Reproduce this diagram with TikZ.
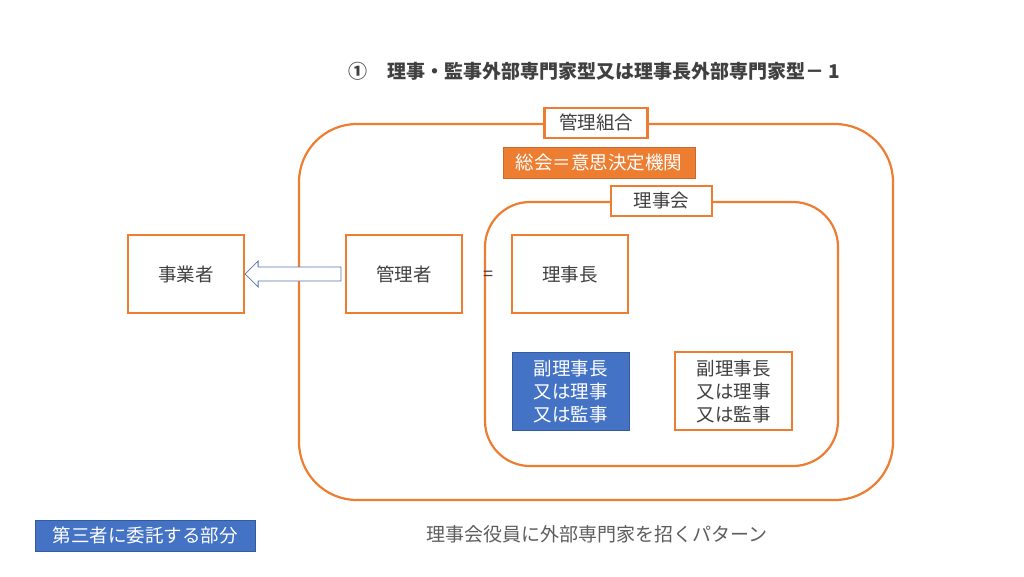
\documentclass[tikz,border=0pt]{standalone}
\usepackage{fontspec}
\newfontfamily\jp{Noto Sans CJK JP}
\usetikzlibrary{calc}

\definecolor{kanriorange}{HTML}{ED7D31}
\definecolor{kanriblue}{HTML}{4472C4}
\definecolor{kanritext}{HTML}{404040}

\tikzset{
	waku/.style={draw=kanriorange, line width=2.2pt, fill=white, text=kanritext,
		font=\jp\fontsize{18.5}{23}\selectfont, align=center, inner sep=0pt},
	midashi/.style={draw=kanriorange, line width=2.2pt, fill=white, text=kanritext,
		font=\jp\fontsize{18.5}{22}\selectfont, inner sep=0pt, minimum height=30pt},
	aobox/.style={fill=kanriblue, draw=kanriblue!80!black, line width=0.6pt, text=white,
		font=\jp\fontsize{18.5}{23}\selectfont, align=center, inner sep=0pt}
}

\begin{document}
\begin{tikzpicture}[x=1pt,y=-1pt]

\useasboundingbox (0,0) rectangle (1024,576);

% title
\node [text=kanritext, font=\jp\bfseries\fontsize{19}{22}\selectfont] (title) at (594,71)
	{①\hspace{20pt}理事・監事外部専門家型又は理事長外部専門家型－ 1};

% kumiai and rijikai
\node [draw=kanriorange, line width=2.2pt, rounded corners=58pt,
	minimum width=594pt, minimum height=376pt] (kumiai) at (596,312) {};
\node [draw=kanriorange, line width=2.2pt, rounded corners=45pt,
	minimum width=353pt, minimum height=264pt] (rijikai) at (661.5,334) {};

\node [midashi, minimum width=103pt] (kumiailabel) at (kumiai.north) {管理組合};
\node [midashi, minimum width=101pt] (rijikailabel) at (rijikai.north) {理事会};

\node [fill=kanriorange, draw=kanriorange!85!black, line width=0.6pt, text=white,
	font=\jp\fontsize{18.5}{22}\selectfont, inner sep=0pt,
	minimum width=192pt, minimum height=31pt] (sokai) at (599,162.5) {総会＝意思決定機関};

\node [waku, minimum width=116pt, minimum height=78pt] (jigyosha) at (186,274) {事業者};
\node [waku, minimum width=116pt, minimum height=78pt] (kanrisha) at (404,274) {管理者};
\node [waku, minimum width=116pt, minimum height=78pt] (rijicho) at (570,274) {理事長};
\node [text=kanritext, font=\jp\fontsize{18}{20}\selectfont] (equal) at (488,276) {=};

\node [aobox, minimum width=117pt, minimum height=78pt] (fukuao) at (570.5,391)
	{副理事長\\又は理事\\又は監事};
\node [waku, minimum width=117pt, minimum height=78pt] (fukushiro) at (733.5,391)
	{副理事長\\又は理事\\又は監事};

% hollow arrow kanrisha -> jigyosha
\draw [draw=kanriblue!70!gray, line width=0.8pt, fill=white]
	($(kanrisha.west)+(-4,-7)$) -- ($(jigyosha.east)+(13,-7)$) -- ($(jigyosha.east)+(13,-13)$) --
	(jigyosha.east) --
	($(jigyosha.east)+(13,13)$) -- ($(jigyosha.east)+(13,7)$) -- ($(kanrisha.west)+(-4,7)$) -- cycle;

% legend and caption
\node [aobox, minimum width=220pt, minimum height=31pt] (hanrei) at (145,535.5) {第三者に委託する部分};
\node [text=kanritext!85, font=\jp\fontsize{19}{22}\selectfont] (pattern) at (597,534)
	{理事会役員に外部専門家を招くパターン};

\end{tikzpicture}
\end{document}
